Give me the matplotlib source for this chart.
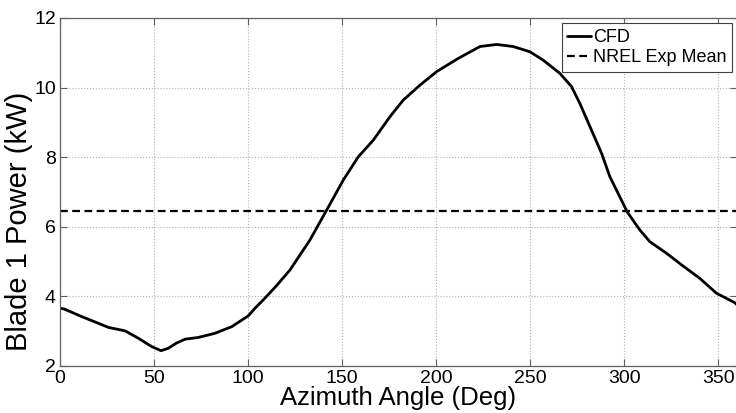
import matplotlib
matplotlib.use("Agg")
import matplotlib.pyplot as plt
import numpy as np

plt.rcParams['font.family'] = ['Liberation Sans', 'DejaVu Sans']

azimuth = [0, 2.1, 6, 11.5, 18, 25.7, 34.6, 41.6, 48.7, 53.7, 57.6, 62, 66.5, 73.5, 82.4,
           91.3, 100.1, 103.7, 108.1, 115, 122.3, 132.9, 141.8, 150.6, 158.6, 166.6, 175.4,
           182.5, 191.4, 200.3, 211.8, 223.3, 232.2, 241.0, 249.9, 256.9, 265.8, 272.0,
           276.4, 281.8, 288.0, 292.4, 301.6, 308.3, 313.7, 322.5, 331.4, 340.2, 349.1,
           358.8, 360]
power_cfd = [3.66, 3.64, 3.55, 3.42, 3.28, 3.11, 3.01, 2.80, 2.56, 2.44, 2.51, 2.66, 2.77,
             2.82, 2.94, 3.13, 3.44, 3.66, 3.90, 4.30, 4.76, 5.62, 6.48, 7.34, 8.01, 8.49,
             9.16, 9.64, 10.07, 10.46, 10.84, 11.18, 11.24, 11.18, 11.03, 10.79, 10.41,
             10.03, 9.55, 8.88, 8.11, 7.44, 6.43, 5.91, 5.57, 5.24, 4.87, 4.52, 4.09, 3.82,
             3.76]
nrel_mean = 6.45

xticks = [0, 50, 100, 150, 200, 250, 300, 350]
yticks = [2, 4, 6, 8, 10, 12]

fig = plt.figure(figsize=(7.36, 4.13), dpi=100)
ax = fig.add_axes([60/736, 47/413, 677/736, 348/413])

ax.plot(azimuth, power_cfd, color='black', lw=2.0, label='CFD',
        solid_joinstyle='round', solid_capstyle='round')
ax.axhline(nrel_mean, color='black', lw=1.6, ls=(0, (3.5, 2)), label='NREL Exp Mean')

ax.set_xlim(0, 360)
ax.set_ylim(2, 12)
ax.set_xticks(xticks)
ax.set_yticks(yticks)
ax.grid(True, color='#b0b0b0', ls=':', lw=0.8)
for s in ax.spines.values():
    s.set_color('#606060')
    s.set_linewidth(0.9)
ax.tick_params(direction='in', length=5, color='#606060', labelsize=14, top=True, right=True,
               pad=3)
ax.set_xlabel('Azimuth Angle (Deg)', fontsize=18.5, labelpad=-1)
ax.set_ylabel('Blade 1 Power (kW)', fontsize=21)
ax.yaxis.set_label_coords(-0.04, 0.415)

leg = ax.legend(loc='upper right', fontsize=13, handlelength=1.3, handletextpad=0.1,
                borderpad=0.3, labelspacing=0.2, fancybox=False, framealpha=1,
                borderaxespad=0.3)
leg.get_frame().set_edgecolor('#404040')
leg.get_frame().set_linewidth(0.8)

fig.savefig('out.png', dpi=100)
